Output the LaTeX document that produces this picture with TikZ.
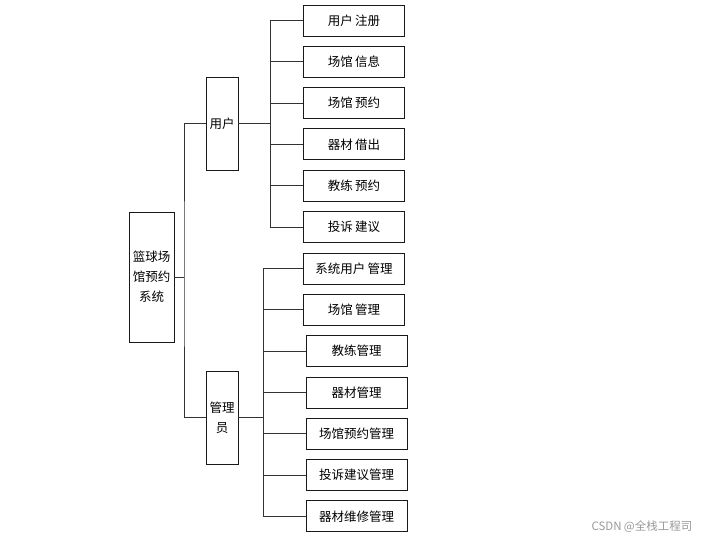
\documentclass[tikz,border=0pt]{standalone}
\usepackage{fontspec}
\setmainfont[WordSpace=0.85]{Noto Sans CJK SC}
\begin{document}
\begin{tikzpicture}[x=1pt, y=-1pt, line width=0.8pt]
  \tikzset{
    box/.style={draw=black!90, rectangle, inner sep=0pt, align=center,
                font=\fontsize{12.5}{20}\selectfont},
    leaf/.style={box, minimum width=101pt, minimum height=31pt},
    link/.style={draw=black!80},
  }
  \useasboundingbox (0,0) rectangle (706,540);

  % 根节点与两个角色
  \node[box, minimum width=45pt, minimum height=130pt] (sys) at (151.5,277) {篮球场\\馆预约\\系统};
  \node[box, minimum width=32pt, minimum height=93pt] (user) at (222,123.5) {用户};
  \node[box, minimum width=32pt, minimum height=93pt] (admin) at (222,417.5) {管理\\员};

  \coordinate (busS) at (184,277);
  \draw[link] (sys.east) -- (busS);
  \draw[link] (user.west) -| (busS) |- (admin.west);

  % 用户功能
  \coordinate (busU) at (270,123.5);
  \draw[link] (user.east) -- (busU);
  \foreach \t [count=\i] in {用户 注册, 场馆 信息, 场馆 预约, 器材 借出, 教练 预约, 投诉 建议} {
    \node[leaf] (u\i) at (354,{20.5+41.3*(\i-1)}) {\t};
    \draw[link] (busU) |- (u\i.west);
  }

  % 管理员功能
  \coordinate (busA) at (263,417.5);
  \draw[link] (admin.east) -- (busA);
  \foreach \t/\x [count=\i] in {系统用户 管理/354, 场馆 管理/354, 教练管理/356.5, 器材管理/356.5,
                                场馆预约管理/356.5, 投诉建议管理/356.5, 器材维修管理/356.5} {
    \node[leaf] (a\i) at (\x,{268.5+41.3*(\i-1)}) {\t};
    \draw[link] (busA) |- (a\i.west);
  }

  % 水印
  \node[anchor=east, text=black!40, font=\fontsize{11.5}{12}\selectfont] (mark) at (696,527) {CSDN @全栈工程司};
\end{tikzpicture}
\end{document}
